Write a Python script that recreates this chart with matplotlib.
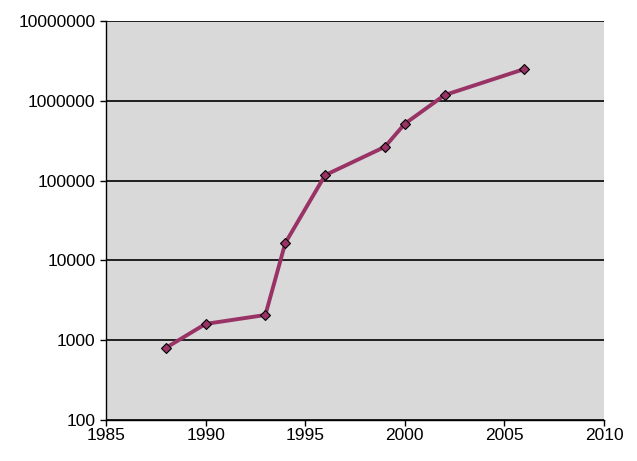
import matplotlib
matplotlib.use("Agg")
from matplotlib import pyplot as plt
from matplotlib.ticker import FixedLocator, FixedFormatter

years = [1988, 1990, 1993, 1994, 1996, 1999, 2000, 2002, 2006]
counts = [800, 1600, 2070, 16500, 117000, 265000, 515000, 1180000, 2500000]

x_ticks = [1985, 1990, 1995, 2000, 2005, 2010]
y_ticks = [100, 1000, 10000, 100000, 1000000, 10000000]
y_labels = ["100", "1000", "10000", "100000", "1000000", "10000000"]

plt.rcParams["font.family"] = ["Liberation Sans", "DejaVu Sans"]

fig = plt.figure(figsize=(6.37, 4.61), dpi=100)
ax = fig.add_axes([106 / 637, 1 - 420 / 461, 498 / 637, 399 / 461])
ax.set_facecolor("#d9d9d9")

ax.plot(years, counts, color="#993366", linewidth=2.8, marker="D", markersize=5.5,
        markerfacecolor="#993366", markeredgecolor="black", markeredgewidth=0.8,
        zorder=3)

ax.set_yscale("log")
ax.set_xlim(1985, 2010)
ax.set_ylim(100, 10000000)
ax.yaxis.set_major_locator(FixedLocator(y_ticks))
ax.yaxis.set_major_formatter(FixedFormatter(y_labels))
ax.yaxis.set_minor_locator(FixedLocator([]))
ax.set_xticks(x_ticks)
ax.set_xticklabels([str(x) for x in x_ticks])

ax.grid(axis="y", color="black", linewidth=1.2)
ax.set_axisbelow(True)
for s in ["top", "right"]:
    ax.spines[s].set_visible(False)
for s in ["left", "bottom"]:
    ax.spines[s].set_color("black")
    ax.spines[s].set_linewidth(1.0)

ax.tick_params(direction="out", length=4.5, width=1, labelsize=12.5, colors="black")
ax.tick_params(axis="y", pad=3)
ax.tick_params(axis="x", pad=1)

plt.savefig("out.png", dpi=100)
